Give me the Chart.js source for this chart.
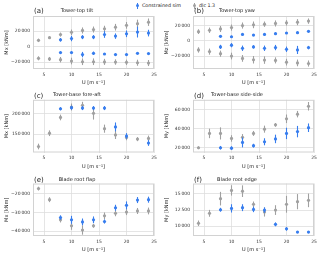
<!DOCTYPE html>
<html>
<head>
<meta charset="utf-8">
<script src="https://cdn.jsdelivr.net/npm/chart.js@4.4.0/dist/chart.umd.min.js"></script>
<style>
  body { margin: 0; background: #fff; width: 320px; height: 257px; position: relative; overflow: hidden; font-family: "DejaVu Sans", sans-serif; }
  .panel { position: absolute; }
  #legend { position: absolute; top: 2px; left: 134px; font-size: 4.8px; color: #222; white-space: nowrap; }
  .item { position: absolute; top: 0; height: 8px; }
  .mk { position: absolute; left: 0; top: 0.5px; width: 1px; height: 6px; }
  .dot { position: absolute; left: -1px; top: 2px; width: 3px; height: 3px; border-radius: 50%; }
  .txt { position: absolute; left: 5px; top: 0.5px; }
</style>
</head>
<body>
<div id="legend"></div>
<div class="panel" style="left:0;top:0"><canvas id="pa" width="160" height="86"></canvas></div>
<div class="panel" style="left:160px;top:0"><canvas id="pb" width="160" height="86"></canvas></div>
<div class="panel" style="left:0;top:86px"><canvas id="pc" width="160" height="85"></canvas></div>
<div class="panel" style="left:160px;top:86px"><canvas id="pd" width="160" height="85"></canvas></div>
<div class="panel" style="left:0;top:171px"><canvas id="pe" width="160" height="86"></canvas></div>
<div class="panel" style="left:160px;top:171px"><canvas id="pf" width="160" height="86"></canvas></div>
<script>
// wind speeds of the load cases
const windSpeeds = [4, 6, 8, 10, 12, 14, 16, 18, 20, 22, 24];
const simSpeeds = [8, 10, 12, 14, 16, 18, 20, 22, 24];
const xTicks = [5, 10, 15, 20, 25];
const seriesNames = ['Constrained sim', 'dlc 1.3'];

// (a) tower-top tilt, max and min
const tiltDlcHi = [8000, 11500, 15500, 18500, 20800, 22000, 23000, 25000, 27400, 29600, 31500];
const tiltDlcHiErr = [2200, 1700, 2600, 3500, 3900, 3900, 3900, 4300, 4300, 5200, 4800];
const tiltDlcLo = [-15200, -16000, -17000, -18700, -19600, -19600, -19800, -20000, -20400, -20900, -21300];
const tiltDlcLoErr = [2600, 2600, 3500, 4300, 4300, 4300, 3900, 3500, 3500, 3900, 3900];
const tiltSimHi = [8700, 10400, 12200, 12200, 15600, 13500, 16500, 18700, 17400];
const tiltSimHiErr = [2200, 3500, 2600, 2600, 4300, 3500, 4300, 7000, 4300];
const tiltSimLo = [-7800, -7800, -10400, -8700, -9600, -10400, -10400, -8700, -9100];
const tiltSimLoErr = [1300, 1300, 3500, 2200, 1300, 1300, 1300, 900, 900];
const tiltTicks = [-20000, 0, 20000];

// (b) tower-top yaw
const yawDlcHi = [12000, 13800, 15500, 17300, 20000, 20900, 21800, 22700, 23500, 24400, 25800];
const yawDlcHiErr = [3100, 3500, 4000, 4000, 4000, 4400, 3500, 4000, 3500, 4000, 3500];
const yawDlcLo = [-12000, -14200, -16900, -20000, -23100, -24900, -25300, -25700, -28000, -29000, -29800];
const yawDlcLoErr = [3500, 4000, 4000, 4400, 4400, 4900, 4900, 4000, 4400, 4400, 4000];
const yawSimHi = [5800, 5300, 8400, 7500, 8400, 9300, 10200, 10600, 12400];
const yawSimHiErr = [1300, 1300, 1300, 900, 1300, 1300, 1300, 1300, 1300];
const yawSimLo = [-8000, -5800, -9800, -8000, -9800, -8900, -11100, -12000, -8900];
const yawSimLoErr = [2700, 2700, 3500, 2200, 3500, 3500, 3500, 5300, 2200];
const yawTicks = [-20000, 0, 20000];

// (c) tower-base fore-aft
const faDlc = [119800, 152600, 191400, 217200, 221500, 201700, 163800, 148300, 142200, 138000, 139700];
const faDlcErr = [7000, 7000, 7000, 8600, 8600, 15500, 10000, 10000, 7000, 5000, 7000];
const faSim = [212900, 215500, 214600, 214600, 214600, 168100, 145700, null, 128400];
const faSimErr = [4000, 5000, 5000, 5000, 5000, 11000, 7000, null, 7000];
const faTicks = [150000, 200000];

// (d) tower-base side-side
const ssDlc = [20000, 35100, 35100, 29800, 31000, 35100, 39600, 44100, 50500, 55400, 63700];
const ssDlcErr = [1500, 5000, 6400, 3400, 3400, 2600, 3700, 2000, 4500, 3400, 4500];
const ssSim = [20000, 19600, 25600, 22200, 26300, 29300, 35100, 37000, 41100];
const ssSimErr = [1900, 1900, 5200, 2000, 3700, 4500, 6000, 6000, 4500];
const ssTicks = [20000, 40000, 60000];

// (e) blade root flap
const flapDlc = [-17300, -23200, -33900, -37100, -39300, -37100, -31800, -30400, -29800, -29200, -29200];
const flapDlcErr = [1000, 1300, 1400, 2100, 2500, 1000, 1800, 1600, 1600, 1600, 1800];
const flapSim = [-32700, -33900, -35000, -33900, -34800, -27500, -26200, -23400, -23200];
const flapSimErr = [1200, 2100, 1800, 1800, 1100, 1600, 2100, 1600, 1600];
const flapTicks = [-40000, -30000, -20000];

// (f) blade root edge
const edgeDlc = [10470, 12000, 14260, 15530, 15420, 13400, 12200, 12500, 13400, 13800, 14000];
const edgeDlcErr = [420, 530, 1050, 800, 900, 420, 700, 750, 1300, 1170, 1050];
const edgeSim = [12550, 12760, 12870, 12600, 12500, 10300, 9600, 9100, 9100];
const edgeSimErr = [300, 640, 530, 420, 420, 300, 260, 150, 150];
const edgeTicks = [10000, 12500, 15000];

const BLUE = 'rgb(55, 125, 238)';
const GRAY = 'rgb(160, 160, 160)';
const GRID = '#dedede';
const FONT = '"DejaVu Sans", sans-serif';

function fmt(v) {
    const s = Math.abs(v).toString().replace(/\B(?=(\d{3})+(?!\d))/g, '\u2009');
    return (v < 0 ? '\u2212' : '') + s;
}

function series(xs, ys, errs, color, label) {
    const pts = [], e = [];
    xs.forEach(function (x, i) {
        if (ys[i] === null) return;
        pts.push({ x: x, y: ys[i] });
        e.push(errs[i]);
    });
    return {
        label: label, data: pts, errors: e,
        backgroundColor: color, borderColor: color,
        pointRadius: 1.6, pointHoverRadius: 1.6, borderWidth: 0
    };
}

// vertical error bars, drawn just before each dataset's points
const errorBars = {
    id: 'errorBars',
    beforeDatasetDraw(chart, args) {
        const ds = chart.data.datasets[args.index];
        if (!ds.errors) return;
        const ctx = chart.ctx, xs = chart.scales.x, ys = chart.scales.y;
        ctx.save();
        ctx.strokeStyle = ds.borderColor;
        ctx.lineWidth = 1.1;
        ds.data.forEach(function (p, i) {
            const px = xs.getPixelForValue(p.x);
            ctx.beginPath();
            ctx.moveTo(px, ys.getPixelForValue(p.y - ds.errors[i]));
            ctx.lineTo(px, ys.getPixelForValue(p.y + ds.errors[i]));
            ctx.stroke();
        });
        ctx.restore();
    }
};

// frame around the plot and the panel letter
const frame = {
    id: 'frame',
    beforeDatasetsDraw(chart, args, opts) {
        const a = chart.chartArea, ctx = chart.ctx;
        ctx.save();
        ctx.strokeStyle = '#d2d2d2';
        ctx.lineWidth = 1;
        ctx.strokeRect(a.left + 0.5, a.top + 0.5, a.right - a.left - 1, a.bottom - a.top - 1);
        ctx.restore();
    },
    afterDraw(chart, args, opts) {
        const ctx = chart.ctx;
        ctx.save();
        ctx.fillStyle = '#222';
        ctx.font = '7px ' + FONT;
        ctx.textBaseline = 'alphabetic';
        ctx.fillText(opts.letter, chart.chartArea.left + 1, opts.letterY);
        ctx.restore();
    }
};

function makePanel(id, p) {
    const datasets = [];
    p.sim.forEach(function (s) { datasets.push(series(simSpeeds, s[0], s[1], BLUE, seriesNames[0])); });
    p.dlc.forEach(function (s) { datasets.push(series(windSpeeds, s[0], s[1], GRAY, seriesNames[1])); });
    const small = { family: FONT, size: 4.5 };
    return new Chart(document.getElementById(id), {
        type: 'scatter',
        data: { datasets: datasets },
        plugins: [errorBars, frame],
        options: {
            responsive: false,
            animation: false,
            devicePixelRatio: 1,
            layout: { padding: { left: 0, right: 6, top: 0, bottom: 0 } },
            scales: {
                x: {
                    min: 3, max: 25,
                    afterBuildTicks: function (s) { s.ticks = xTicks.map(function (v) { return { value: v }; }); },
                    afterFit: function (s) { s.height = p.xAxisH; },
                    grid: { color: GRID, lineWidth: 0.8, drawTicks: false },
                    border: { display: false },
                    ticks: { font: small, color: '#333', padding: 3, maxRotation: 0 },
                    title: { display: true, text: 'U [m s\u207B\u00B9]', font: { family: FONT, size: 5 }, color: '#222', padding: { top: 0, bottom: p.xTitlePad } }
                },
                y: {
                    min: p.yMin, max: p.yMax,
                    afterBuildTicks: function (s) { s.ticks = p.yTicks.map(function (v) { return { value: v }; }); },
                    afterFit: function (s) { s.width = 33; },
                    grid: { color: GRID, lineWidth: 0.8, drawTicks: false },
                    border: { display: false },
                    ticks: { font: small, color: '#333', padding: 3, callback: fmt },
                    title: { display: true, text: p.yLabel, font: { family: FONT, size: 5 }, color: '#222', padding: { top: 3.5, bottom: 0 } }
                }
            },
            plugins: {
                legend: { display: false },
                tooltip: { enabled: false },
                title: {
                    display: true, text: p.title, color: '#222',
                    font: { family: FONT, size: 5, weight: 'normal' },
                    padding: { top: p.titleTop, bottom: p.titleBottom }
                },
                frame: { letter: p.letter, letterY: p.letterY }
            }
        }
    });
}

document.addEventListener('DOMContentLoaded', function () {
    const row1 = { xAxisH: 17, xTitlePad: 0.5, titleTop: 7.5, titleBottom: 2.5, letterY: 13 };
    const row2 = { xAxisH: 18.5, xTitlePad: 1.5, titleTop: 5.5, titleBottom: 2.3, letterY: 12 };
    const row3 = { xAxisH: 21, xTitlePad: 4, titleTop: 6, titleBottom: 0.5, letterY: 11 };

    makePanel('pa', Object.assign({}, row1, {
        letter: '(a)', title: 'Tower-top tilt', yLabel: 'Mx [kNm]', yMin: -29000, yMax: 39500, yTicks: tiltTicks,
        sim: [[tiltSimHi, tiltSimHiErr], [tiltSimLo, tiltSimLoErr]],
        dlc: [[tiltDlcHi, tiltDlcHiErr], [tiltDlcLo, tiltDlcLoErr]]
    }));
    makePanel('pb', Object.assign({}, row1, {
        letter: '(b)', title: 'Tower-top yaw', yLabel: 'Mz [kNm]', yMin: -37000, yMax: 32500, yTicks: yawTicks,
        sim: [[yawSimHi, yawSimHiErr], [yawSimLo, yawSimLoErr]],
        dlc: [[yawDlcHi, yawDlcHiErr], [yawDlcLo, yawDlcLoErr]]
    }));
    makePanel('pc', Object.assign({}, row2, {
        letter: '(c)', title: 'Tower-base fore-aft', yLabel: 'Mx [kNm]', yMin: 105000, yMax: 235000, yTicks: faTicks,
        sim: [[faSim, faSimErr]],
        dlc: [[faDlc, faDlcErr]]
    }));
    makePanel('pd', Object.assign({}, row2, {
        letter: '(d)', title: 'Tower-base side-side', yLabel: 'My [kNm]', yMin: 15000, yMax: 70500, yTicks: ssTicks,
        sim: [[ssSim, ssSimErr]],
        dlc: [[ssDlc, ssDlcErr]]
    }));
    makePanel('pe', Object.assign({}, row3, {
        letter: '(e)', title: 'Blade root flap', yLabel: 'Mx [kNm]', yMin: -42500, yMax: -14600, yTicks: flapTicks,
        sim: [[flapSim, flapSimErr]],
        dlc: [[flapDlc, flapDlcErr]]
    }));
    makePanel('pf', Object.assign({}, row3, {
        letter: '(f)', title: 'Blade root edge', yLabel: 'My [kNm]', yMin: 8500, yMax: 16600, yTicks: edgeTicks,
        sim: [[edgeSim, edgeSimErr]],
        dlc: [[edgeDlc, edgeDlcErr]]
    }));

    // shared legend above the top row
    const legend = document.getElementById('legend');
    const offsets = [0, 57];
    [BLUE, GRAY].forEach(function (c, i) {
        const item = document.createElement('div');
        item.className = 'item';
        item.style.left = (3 + offsets[i]) + 'px';
        item.innerHTML = '<span class="mk" style="background:' + c + '"></span>' +
            '<span class="dot" style="background:' + c + '"></span>' +
            '<span class="txt">' + seriesNames[i] + '</span>';
        legend.appendChild(item);
    });
});
</script>
</body>
</html>
